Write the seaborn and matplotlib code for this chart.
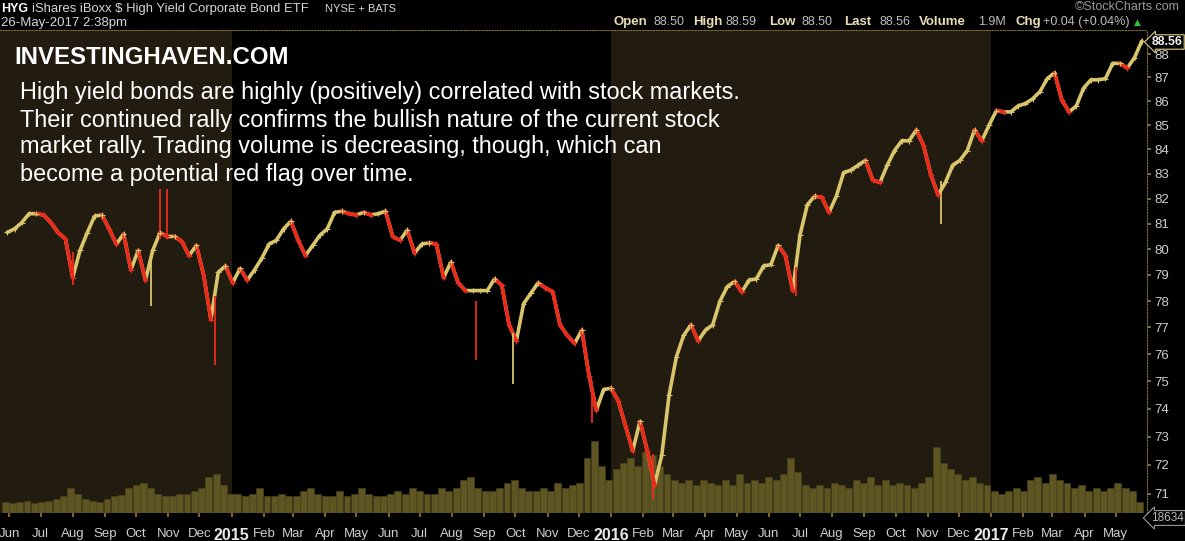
import numpy as np
import pandas as pd
import matplotlib
matplotlib.use("Agg")
import matplotlib.pyplot as plt
import matplotlib.dates as mdates
from matplotlib.ticker import FixedLocator, NullLocator, FixedFormatter
import seaborn as sns

# weekly closes of HYG (Friday)
week_end = pd.date_range("2014-05-30", "2017-05-26", freq="W-FRI")
week_close = [
    80.66, 80.8, 81.05, 81.4, 81.4, 81.35, 81.05, 80.65, 80.4, 78.9,
    79.95, 80.65, 81.3, 81.35, 80.8, 80.2, 80.6, 79.2, 79.95, 78.8,
    79.95, 80.65, 80.5, 80.5, 80.3, 79.75, 80.15, 79.0, 77.3, 79.1,
    79.35, 78.7, 79.25, 78.8, 79.2, 79.65, 80.2, 80.35, 80.8, 81.1,
    80.35, 79.75, 80.15, 80.55, 80.8, 81.45, 81.5, 81.4, 81.35, 81.45,
    81.35, 81.4, 81.5, 80.5, 80.35, 80.75, 79.85, 80.2, 80.25, 80.2,
    78.9, 79.5, 78.7, 78.4, 78.4, 78.4, 78.4, 78.85, 78.6, 77.1,
    76.5, 77.9, 78.3, 78.7, 78.5, 78.35, 77.1, 76.7, 76.4, 76.9,
    75.2, 73.95, 74.7, 74.75, 74.3, 73.4, 72.5, 73.55, 72.5, 71.3,
    72.35, 74.5, 75.9, 76.7, 77.1, 76.5, 76.9, 77.1, 78.0, 78.55,
    78.75, 78.35, 78.8, 78.85, 79.35, 79.4, 80.15, 79.75, 78.4, 80.55,
    81.75, 82.1, 82.05, 81.45, 82.1, 83.05, 83.15, 83.35, 83.55, 82.75,
    82.65, 83.35, 83.95, 84.35, 84.35, 84.8, 84.15, 82.95, 82.15, 82.65,
    83.35, 83.55, 83.95, 84.8, 84.35, 85.0, 85.6, 85.55, 85.55, 85.8,
    85.9, 86.1, 86.4, 86.95, 87.2, 86.05, 85.55, 85.8, 86.55, 86.9,
    86.9, 86.95, 87.6, 87.6, 87.4, 87.85, 88.56,
]
# weekly volume, millions of shares
week_volume = [
    4, 3.5, 4, 4.5, 3.5, 4, 4.5, 5, 6, 9,
    7, 5, 4.5, 4, 5, 6, 6.5, 9, 10, 11,
    9, 7, 6, 6, 7, 7, 8, 9, 13, 14,
    10, 7, 7, 6, 7, 9, 6, 6, 7, 6,
    6, 8, 9, 7, 6, 6, 8, 6, 7, 9,
    7, 6, 6, 7, 8, 7, 9, 8, 7, 7,
    9, 8, 9, 12, 13, 9, 8, 8, 9, 11,
    12, 9, 8, 8, 9, 8, 11, 9, 10, 11,
    20, 26, 17, 12, 16, 18, 20, 17, 22, 21,
    17, 14, 12, 11, 12, 10, 12, 11, 10, 12,
    10, 14, 11, 12, 11, 13, 12, 14, 20, 15,
    10, 9, 10, 9, 11, 10, 9, 12, 11, 13,
    10, 12, 10, 11, 10, 9, 11, 13, 24, 18,
    16, 14, 12, 13, 11, 10, 8, 7, 8, 9,
    8, 12, 13, 11, 14, 12, 11, 9, 10, 8,
    9, 8, 9, 11, 9, 8, 4,
]
# single-day spikes that stick out of the weekly path
wick_dates = ["2014-08-01", "2014-10-15", "2014-10-24", "2014-10-31", "2014-12-16",
              "2015-08-24", "2015-09-29", "2015-12-14", "2016-02-11", "2016-06-27",
              "2016-11-14"]
wick_low = [78.6, 77.8, 80.4, 80.4, 75.6, 75.8, 74.9, 73.5, 70.8, 78.2, 81.0]
wick_high = [79.9, 79.7, 82.4, 82.4, 78.2, 78.0, 76.8, 75.0, 72.4, 79.3, 82.7]
wick_up = [False, True, False, False, False, False, True, False, False, False, True]

price_ticks = list(range(71, 89))

UP = "#d9c56c"
DOWN = "#ec2a1c"
BAND = "#221b0f"
VOLC = "#5e5622"
TXT = "#cfcfcf"

sns.set_theme(style="dark", rc={"axes.facecolor": "black", "figure.facecolor": "black"})
plt.rcParams["font.family"] = ["Liberation Sans", "DejaVu Sans"]

W, H = 1185, 541
fig = plt.figure(figsize=(W / 100, H / 100), dpi=100)
pos = [0, 1 - 513 / H, 1147 / W, (513 - 30) / H]
axv = fig.add_axes(pos)
ax = fig.add_axes(pos, sharex=axv)
ax.patch.set_visible(False)

x0, x1 = pd.Timestamp("2014-05-23"), pd.Timestamp("2017-05-31")
axv.set_facecolor("black")
axv.axvspan(x0, pd.Timestamp("2015-01-01"), color=BAND, lw=0)
axv.axvspan(pd.Timestamp("2016-01-01"), pd.Timestamp("2017-01-01"), color=BAND, lw=0)

vol = pd.DataFrame({"date": week_end - pd.Timedelta(days=2), "volume": week_volume})
axv.bar(vol["date"], vol["volume"], width=6.6, color=VOLC, edgecolor="#4a4419", lw=0.4)
axv.set_ylim(0, 175)
axv.set_xlim(x0, x1)
axv.tick_params(left=False, right=False, bottom=False, labelleft=False, labelbottom=False)
for s in axv.spines.values():
    s.set_visible(False)

# price path
prices = pd.DataFrame({"date": week_end, "close": week_close})
sns.lineplot(data=prices, x="date", y="close", ax=ax, color=UP, lw=2.6, zorder=3)
for i in range(1, len(prices)):
    if week_close[i] < week_close[i - 1]:
        ax.plot(week_end[i - 1:i + 1], week_close[i - 1:i + 1], color=DOWN, lw=2.6,
                zorder=4, solid_capstyle="round")
ax.scatter(week_end, week_close, marker="+", s=16, lw=0.8,
           color=[UP if i == 0 or week_close[i] >= week_close[i - 1] else DOWN
                  for i in range(len(week_close))], zorder=5)
for d, lo, hi, up in zip(wick_dates, wick_low, wick_high, wick_up):
    ax.vlines(pd.Timestamp(d), lo, hi, color=UP if up else DOWN, lw=1.3, zorder=4)

ax.set_yscale("log")
ax.set_ylim(70.33, 89.04)
ax.yaxis.set_major_locator(FixedLocator(price_ticks))
ax.yaxis.set_major_formatter(FixedFormatter([str(t) for t in price_ticks]))
ax.yaxis.set_minor_locator(NullLocator())
ax.yaxis.tick_right()
ax.tick_params(axis="y", which="both", left=False, right=True, labelleft=False,
               labelright=True, colors="#8a7a40", labelcolor=TXT, labelsize=9.5,
               length=3, pad=2)
ax.set_xlabel("")
ax.set_ylabel("")

# month ticks
months = pd.date_range("2014-06-01", "2017-05-01", freq="MS")
ax.xaxis.set_major_locator(FixedLocator(mdates.date2num(months)))
ax.xaxis.set_major_formatter(FixedFormatter(
    [str(m.year) if m.month == 1 else m.strftime("%b") for m in months]))
ax.tick_params(axis="x", colors="#8a7a40", labelcolor=TXT, labelsize=9.5, length=3,
               pad=8, bottom=True)
for lab, m in zip(ax.get_xticklabels(), months):
    if m.month == 1:
        lab.set_fontweight("bold")
        lab.set_fontsize(11.5)
        lab.set_color("#e8e8e8")

for side in ["left", "bottom"]:
    ax.spines[side].set_visible(False)
for side in ["right", "top"]:
    ax.spines[side].set_visible(True)
    ax.spines[side].set_color("#7a6c38")
    ax.spines[side].set_linestyle((0, (1, 1.5)))
    ax.spines[side].set_linewidth(0.8)


def px(x, y):
    return x / W, 1 - y / H


# price / volume tags on the right axis
fig.text(*px(1183, 42), "88.56", ha="right", va="center", fontsize=8.8,
         fontweight="bold", color="#f0f0f0",
         bbox=dict(boxstyle="larrow,pad=0.1", fc="black", ec="#c9b878", lw=0.9))
fig.text(*px(1184, 518), "18634", ha="right", va="center", fontsize=8.5,
         color="#b8b8b8",
         bbox=dict(boxstyle="larrow,pad=0.12", fc="black", ec="#9a9a9a", lw=0.8))

# header
fig.text(*px(1, 9), "HYG", color="white", fontsize=9, fontweight="bold", va="center")
fig.text(*px(32, 9), "iShares iBoxx $ High Yield Corporate Bond ETF", color="#d6d6d6",
         fontsize=9.4, va="center")
fig.text(*px(325, 9), "NYSE + BATS", color="#d6d6d6", fontsize=8, va="center")
fig.text(*px(1, 23), "26-May-2017 2:38pm", color="#d6d6d6", fontsize=9.5, va="center")
fig.text(*px(1180, 7), "\u00a9StockCharts.com", color="#9a9a9a", fontsize=9, va="center",
         ha="right")
quote = [(614, "Open", True), (653, "88.50", False), (693, "High", True),
         (725, "88.59", False), (769, "Low", True), (801, "88.50", False),
         (844, "Last", True), (879, "88.56", False), (919, "Volume", True),
         (978, "1.9M", False), (1015, "Chg", True), (1043, "+0.04 (+0.04%)", False)]
for x, s, b in quote:
    fig.text(*px(x, 22), s, color="#e8ddb5" if b else "#bdbdbd",
             fontsize=9.5 if b else 9, fontweight="bold" if b else "normal", va="center")
fig.text(*px(1134, 22), "\u25b2", color="#2fbf3a", fontsize=6.5, va="center",
         family=["DejaVu Sans"])

# commentary
fig.text(*px(14, 57), "INVESTINGHAVEN.COM", color="white", fontsize=17.3,
         fontweight="bold", va="center")
lines = ["High yield bonds are highly (positively) correlated with stock markets.",
         "Their continued rally confirms the bullish nature of the current stock",
         "market rally. Trading volume is decreasing, though, which can",
         "become a potential red flag over time."]
for i, s in enumerate(lines):
    fig.text(*px(20, 93 + 27 * i), s, color="white", fontsize=16.9, va="center")

fig.savefig("out.png", dpi=100, facecolor="black")
